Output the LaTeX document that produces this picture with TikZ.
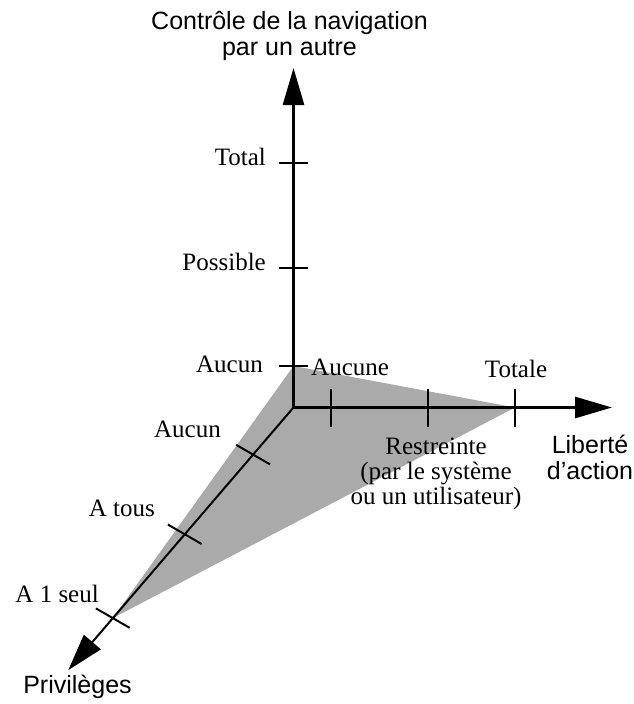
\documentclass[tikz,border=0pt]{standalone}
\usepackage{fontspec}
\setmainfont{Liberation Serif}
\setsansfont{Liberation Sans}
\usetikzlibrary{arrows.meta}
\definecolor{fillgray}{RGB}{170,170,170}
\begin{document}
\begin{tikzpicture}[x=1pt,y=-1pt,
  axis/.style={line width=2.7pt,-{Triangle[length=37pt,width=21pt]}},
  diagaxis/.style={line width=2pt,-{Triangle[length=37pt,width=22pt]}},
  vtick/.style={line width=2.3pt},
  dtick/.style={line width=2pt},
  lab/.style={font=\fontsize{25}{25}\selectfont, inner sep=0pt},
  ttl/.style={font=\sffamily\fontsize{25}{26}\selectfont, inner sep=0pt, align=center},
]
\useasboundingbox (0,0) rectangle (634,704);
% axes points
\coordinate (O) at (293.5,407.5);
\coordinate (Vtip) at (293.5,68);
\coordinate (Htip) at (612,407.5);
\coordinate (Dtip) at (68.3,670.1);
% ticks
\coordinate (V1) at (293.5,366);
\coordinate (V2) at (293.5,267.7);
\coordinate (V3) at (293.5,163);
\coordinate (H1) at (331,407.5);
\coordinate (H2) at (428,407.5);
\coordinate (H3) at (515,407.5);
\coordinate (D1) at (253.1,454.6);
\coordinate (D2) at (184.8,534.3);
\coordinate (D3) at (112.8,618.1);
% gray triangle
\fill[fillgray] (V1) -- (H3) -- (D3) -- cycle;
% axes
\draw[axis] (O) -- (Vtip);
\draw[axis] (O) -- (Htip);
\draw[diagaxis] (O) -- (Dtip);
% vertical ticks
\foreach \p in {V1,V2,V3}
  \draw[vtick] ([xshift=-15pt]\p) -- ([xshift=14pt]\p);
% horizontal ticks
\foreach \p in {H1,H2,H3}
  \draw[vtick] ([yshift=19pt]\p) -- ([yshift=-19pt]\p);
% diagonal ticks
\foreach \p in {D1,D2,D3}
  \draw[dtick] ([shift={(-16.9,-9.75)}]\p) -- ([shift={(16.9,9.75)}]\p);
% labels
\node[lab, anchor=base east] (vTotal) at (266,165) {Total};
\node[lab, anchor=base east] (vPoss) at (266,270) {Possible};
\node[lab, anchor=base east] (vAucun) at (263,372.5) {Aucun};
\node[lab, anchor=base west] (hAucune) at (311,375) {Aucune};
\node[lab, anchor=base] (hTotale) at (516,377.3) {Totale};
\node[lab, anchor=base, align=center] (hRestr) at (436,504) {Restreinte\\(par le système\\ou un utilisateur)};
\node[lab, anchor=base east] (dAucun) at (221,437.3) {Aucun};
\node[lab, anchor=base east] (dTous) at (155,516) {A tous};
\node[lab, anchor=base east] (dSeul) at (99,602.7) {A 1 seul};
\node[ttl, anchor=base] (tV) at (289.5,55) {Contrôle de la navigation\\par un autre};
\node[ttl, anchor=base] (tH) at (590,479.3) {Liberté\\d'action};
\node[ttl, anchor=base] (tD) at (77.5,693.3) {Privilèges};
\end{tikzpicture}
\end{document}
